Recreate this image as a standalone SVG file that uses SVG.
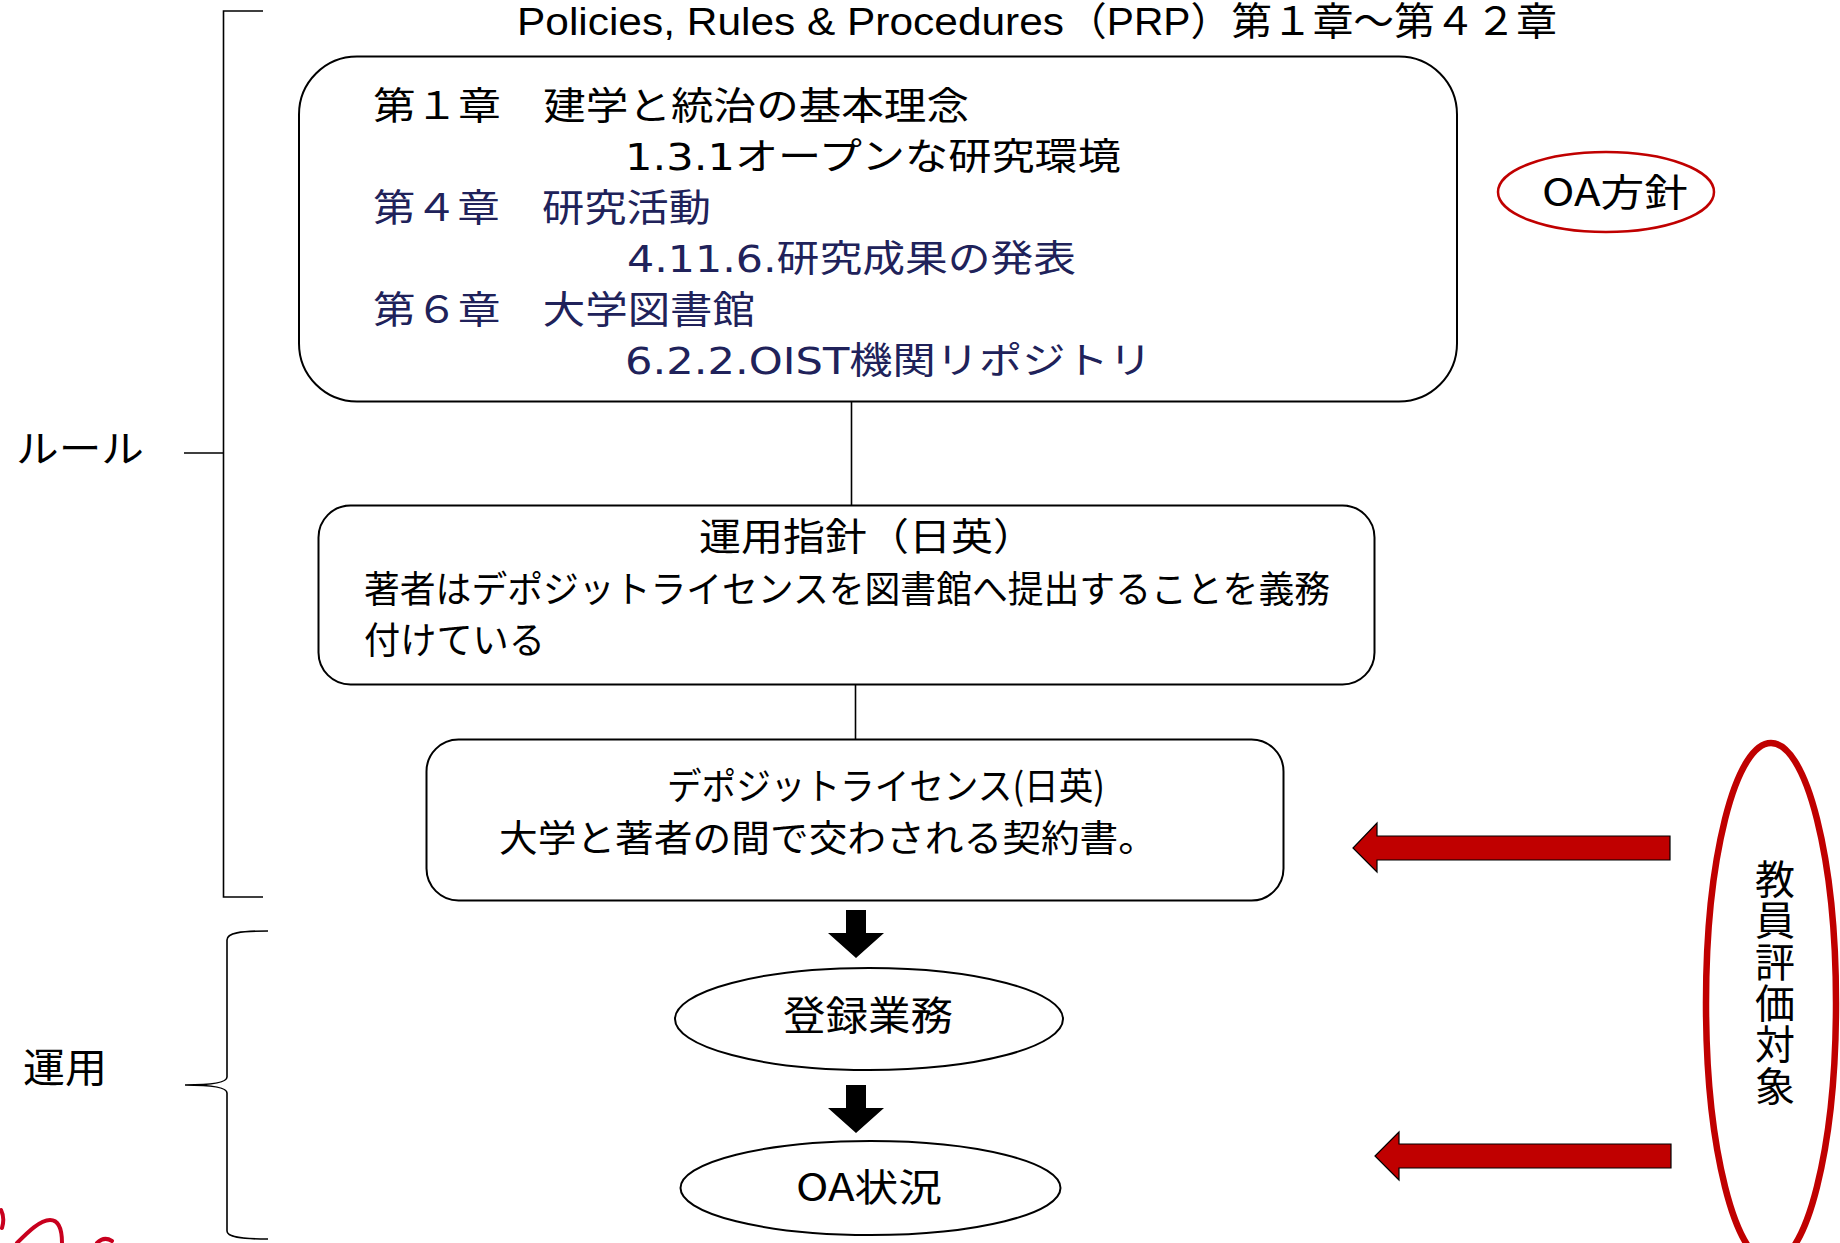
<svg xmlns="http://www.w3.org/2000/svg" width="1840" height="1243" viewBox="0 0 1840 1243">
  <style>
    .jp { font-family: "Noto Sans CJK JP", "Noto Sans CJK SC", sans-serif; fill: #000; }
    .lat { font-family: "Liberation Sans", "Noto Sans CJK JP", sans-serif; fill: #000; }
    .num { font-family: "DejaVu Sans", "Noto Sans CJK JP", sans-serif; }
    .navy { fill: #20225A; }
    .box { fill: #fff; stroke: #000; stroke-width: 2; }
    .line { fill: none; stroke: #000; stroke-width: 1.6; }
    .redarrow { fill: #C00000; stroke: #000; stroke-width: 1.2; }
    .blackarrow { fill: #000; stroke: none; }
  </style>
  <rect x="0" y="0" width="1840" height="1243" fill="#fff"/>

  <!-- title -->
  <g id="title">
    <text class="lat" x="517" y="35" font-size="39" textLength="547" lengthAdjust="spacingAndGlyphs">Policies, Rules &amp; Procedures</text>
    <text class="lat" x="1066" y="35" font-size="39" textLength="491" lengthAdjust="spacingAndGlyphs">（PRP）第１章～第４２章</text>
  </g>

  <!-- brackets -->
  <g id="bracket-rule">
    <path class="line" d="M263,11 H223.5 V897 H263 M184,453 H223.5"/>
    <text class="jp" x="16" y="462" font-size="38" textLength="128" lengthAdjust="spacingAndGlyphs">ルール</text>
  </g>
  <g id="brace-operation">
    <path class="line" stroke-width="2" d="M268,931 C240,931 227,933 227,940 L227,1077 C227,1082 214,1085 185,1085 C214,1085 227,1088 227,1093 L227,1231 C227,1237 240,1239 268,1239"/>
    <text class="jp" x="23" y="1082" font-size="40" textLength="84" lengthAdjust="spacingAndGlyphs">運用</text>
  </g>

  <!-- connectors -->
  <g id="connectors">
    <path class="line" d="M851.5,401 V506"/>
    <path class="line" d="M855.5,684 V739"/>
    <path class="blackarrow" d="M846,910 H866 V933 H884 L856,958 L828,933 H846 Z"/>
    <path class="blackarrow" d="M846,1085 H866 V1108 H884 L856,1133 L828,1108 H846 Z"/>
    <path class="redarrow" d="M1670,836 V860 H1377 V872 L1353,848 L1377,823 V836 Z"/>
    <path class="redarrow" d="M1671,1144 V1168 H1399 V1180 L1375,1156 L1399,1132 V1144 Z"/>
  </g>

  <!-- PRP box -->
  <g id="node-prp">
    <rect class="box" x="299" y="56.5" width="1158" height="345" rx="58" ry="58"/>
    <text class="jp" x="373" y="119" font-size="38" textLength="596" lengthAdjust="spacingAndGlyphs">第１章　建学と統治の基本理念</text>
    <text class="num" x="625" y="170" font-size="37" textLength="496" lengthAdjust="spacingAndGlyphs">1.3.1オープンな研究環境</text>
    <text class="jp navy" x="373" y="221" font-size="38" textLength="338" lengthAdjust="spacingAndGlyphs">第４章　研究活動</text>
    <text class="num navy" x="627" y="272" font-size="37" textLength="449" lengthAdjust="spacingAndGlyphs">4.11.6.研究成果の発表</text>
    <text class="jp navy" x="373" y="323" font-size="38" textLength="382" lengthAdjust="spacingAndGlyphs">第６章　大学図書館</text>
    <text class="num navy" x="625" y="374" font-size="37" textLength="527" lengthAdjust="spacingAndGlyphs">6.2.2.OIST機関リポジトリ</text>
  </g>

  <!-- guideline box -->
  <g id="node-guideline">
    <rect class="box" x="318.5" y="505.5" width="1056" height="179" rx="32" ry="32"/>
    <text class="jp" x="699" y="550" font-size="38" textLength="336" lengthAdjust="spacingAndGlyphs">運用指針（日英）</text>
    <text class="jp" x="364" y="603" font-size="37" textLength="966" lengthAdjust="spacingAndGlyphs">著者はデポジットライセンスを図書館へ提出することを義務</text>
    <text class="jp" x="364" y="654" font-size="37" textLength="181" lengthAdjust="spacingAndGlyphs">付けている</text>
  </g>

  <!-- deposit license box -->
  <g id="node-license">
    <rect class="box" x="426.5" y="739.5" width="857" height="161" rx="32" ry="32"/>
    <text class="jp" x="667" y="800" font-size="37" textLength="438" lengthAdjust="spacingAndGlyphs">デポジットライセンス(日英)</text>
    <text class="jp" x="499" y="852" font-size="37" textLength="658" lengthAdjust="spacingAndGlyphs">大学と著者の間で交わされる契約書。</text>
  </g>

  <!-- registration -->
  <g id="node-registration">
    <ellipse class="box" cx="869" cy="1019" rx="194" ry="51"/>
    <text class="jp" x="783" y="1030" font-size="40" textLength="170" lengthAdjust="spacingAndGlyphs">登録業務</text>
  </g>

  <!-- OA status -->
  <g id="node-oa-status">
    <ellipse class="box" cx="870.5" cy="1188" rx="190" ry="47"/>
    <text class="jp" x="796" y="1201" font-size="38" textLength="146" lengthAdjust="spacingAndGlyphs">OA状況</text>
  </g>

  <!-- OA policy -->
  <g id="node-oa-policy">
    <ellipse cx="1606" cy="192" rx="108" ry="40" fill="none" stroke="#C00000" stroke-width="2.5"/>
    <text class="jp" x="1542" y="206" font-size="38" textLength="146" lengthAdjust="spacingAndGlyphs">OA方針</text>
  </g>

  <!-- faculty evaluation -->
  <g id="node-evaluation">
    <ellipse cx="1771" cy="1003" rx="65" ry="260" fill="none" stroke="#C00000" stroke-width="6.5"/>
    <text class="jp" x="1775" y="859" font-size="40" writing-mode="vertical-rl" letter-spacing="1.3">教員評価対象</text>
  </g>

  <!-- red scribble -->
  <g id="scribble" fill="none" stroke="#C8001E" stroke-width="4" stroke-linecap="round">
    <path d="M1,1210 Q5,1218 2,1228"/>
    <path d="M17,1243 C28,1232 40,1220 50,1220 C60,1220 62,1232 62,1243"/>
    <path d="M97,1243 Q104,1236 112,1241"/>
  </g>
</svg>
